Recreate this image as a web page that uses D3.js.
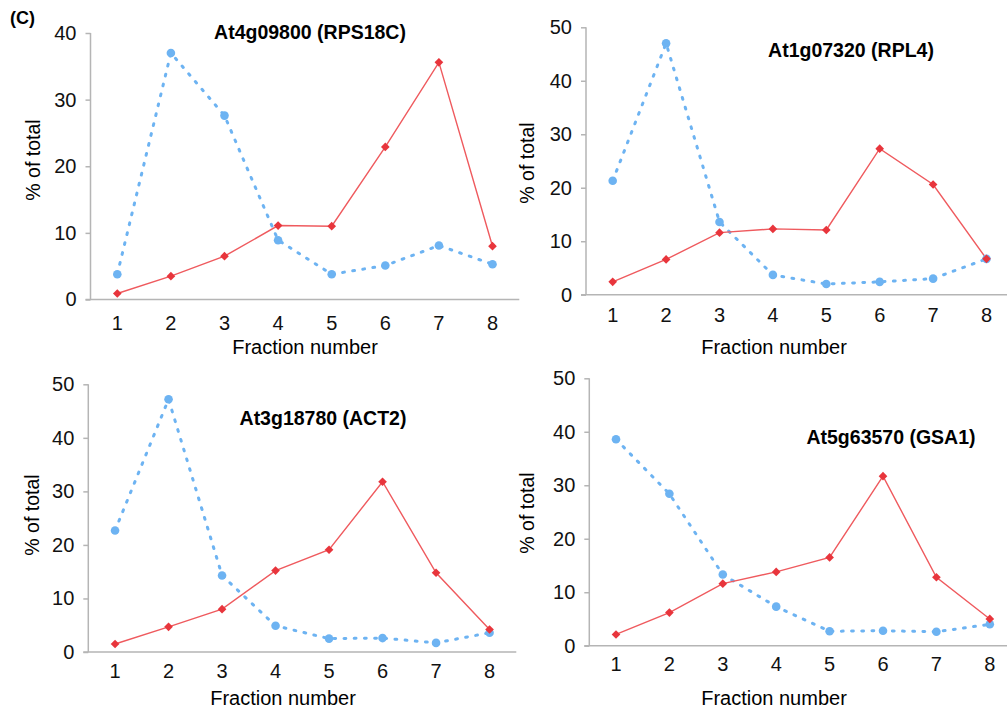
<!DOCTYPE html>
<html>
<head>
<meta charset="utf-8">
<script src="https://cdn.jsdelivr.net/npm/d3@7"></script>
<style>
  body { margin: 0; background: #fff; }
  svg { display: block; font-family: "Liberation Sans", Arial, sans-serif; }
  .blue { fill: none; stroke: #6db3f2; stroke-width: 3; stroke-dasharray: 1.8,8.4; stroke-linecap: round; }
  .red { fill: none; stroke: #ef5a5e; stroke-width: 1.4; }
  .axis path, .axis line { stroke: #b5b5b5; stroke-width: 1.5; }
  .axis text { fill: #111; font-size: 20px; }
</style>
</head>
<body>
<svg id="chart" width="1007" height="709"></svg>
<script>
// fraction numbers on the x axis
var fractions = [1, 2, 3, 4, 5, 6, 7, 8];

// panel titles
var titles = ["At4g09800 (RPS18C)", "At1g07320 (RPL4)", "At3g18780 (ACT2)", "At5g63570 (GSA1)"];

// % of total, blue dotted series
var blueRPS18C = [3.8, 37.0, 27.6, 8.9, 3.8, 5.1, 8.1, 5.3];
var blueRPL4 = [21.3, 47.0, 13.6, 3.7, 2.0, 2.4, 3.0, 6.7];
var blueACT2 = [22.7, 47.2, 14.3, 4.9, 2.5, 2.6, 1.7, 3.6];
var blueGSA1 = [38.6, 28.4, 13.3, 7.3, 2.7, 2.8, 2.6, 4.0];

// % of total, red solid series
var redRPS18C = [0.9, 3.5, 6.5, 11.1, 11.0, 22.9, 35.6, 8.0];
var redRPL4 = [2.4, 6.6, 11.6, 12.3, 12.1, 27.3, 20.6, 6.7];
var redACT2 = [1.5, 4.7, 8.0, 15.2, 19.1, 31.8, 14.8, 4.2];
var redGSA1 = [2.1, 6.2, 11.6, 13.8, 16.5, 31.7, 12.8, 5.0];

// y axis maxima per panel
var yMax = [40, 50, 50, 50];

var blues = [blueRPS18C, blueRPL4, blueACT2, blueGSA1];
var reds = [redRPS18C, redRPL4, redACT2, redGSA1];

// layout of the four panels
var layout = [
  { ax: 90.5, y0: 299.5, yTop: 33, step: 53.6, tickY: 323, xlab: [305, 347], title: [310, 32], ylab: [33, 160] },
  { ax: 586, y0: 294.7, yTop: 27.3, step: 53.4, tickY: 315, xlab: [774, 347], title: [851, 50], ylab: [527, 163] },
  { ax: 88.3, y0: 652, yTop: 384.3, step: 53.5, tickY: 671, xlab: [283, 698], title: [323, 418], ylab: [32, 515] },
  { ax: 589.3, y0: 645.7, yTop: 378.3, step: 53.4, tickY: 664, xlab: [774, 698], title: [891, 437], ylab: [527, 513] }
];

var svg = d3.select("#chart");

svg.append("text")
  .attr("x", 10).attr("y", 18)
  .attr("dominant-baseline", "central")
  .style("font-size", "18px").style("font-weight", "bold")
  .text("(C)");

layout.forEach(function (L, i) {
  var x = d3.scaleBand().domain(fractions).range([L.ax, L.ax + 8 * L.step]);
  var y = d3.scaleLinear().domain([0, yMax[i]]).range([L.y0, L.yTop]);
  var cx = function (d, j) { return x(fractions[j]) + x.bandwidth() / 2; };
  var g = svg.append("g");

  var xAxis = g.append("g").attr("class", "axis")
    .attr("transform", "translate(0," + L.y0 + ")")
    .call(d3.axisBottom(x).tickSize(0).tickSizeOuter(0));
  xAxis.select(".domain").attr("d", "M" + (L.ax - 5) + ",0H" + (L.ax + 8 * L.step));
  xAxis.selectAll("text").attr("y", L.tickY - L.y0).attr("dy", null)
    .attr("dominant-baseline", "central");

  var yAxis = g.append("g").attr("class", "axis")
    .attr("transform", "translate(" + L.ax + ",0)")
    .call(d3.axisLeft(y).tickValues(d3.range(0, yMax[i] + 1, 10)).tickSize(5).tickSizeOuter(0));
  yAxis.select(".domain").attr("d", "M0," + L.yTop + "V" + L.y0);
  yAxis.selectAll("text").attr("x", -14);

  var line = d3.line().x(cx).y(function (d) { return y(d); });

  g.append("path").attr("class", "blue").attr("d", line(blues[i]));
  g.append("path").attr("class", "red").attr("d", line(reds[i]));

  g.selectAll(".bdot").data(blues[i]).enter().append("circle")
    .attr("cx", cx).attr("cy", function (d) { return y(d); })
    .attr("r", 4.3).attr("fill", "#6db3f2");

  g.selectAll(".rdot").data(reds[i]).enter().append("path")
    .attr("d", d3.symbol(d3.symbolDiamond2, 48))
    .attr("transform", function (d, j) { return "translate(" + cx(d, j) + "," + y(d) + ")"; })
    .attr("fill", "#e8353c");

  g.append("text")
    .attr("x", L.title[0]).attr("y", L.title[1])
    .attr("text-anchor", "middle").attr("dominant-baseline", "central")
    .style("font-size", "19.5px").style("font-weight", "bold")
    .text(titles[i]);

  g.append("text")
    .attr("x", L.xlab[0]).attr("y", L.xlab[1])
    .attr("text-anchor", "middle").attr("dominant-baseline", "central")
    .style("font-size", "20px")
    .text("Fraction number");

  g.append("text")
    .attr("transform", "translate(" + L.ylab[0] + "," + L.ylab[1] + ") rotate(-90)")
    .attr("text-anchor", "middle").attr("dominant-baseline", "central")
    .style("font-size", "19.5px")
    .text("% of total");
});
</script>
</body>
</html>
